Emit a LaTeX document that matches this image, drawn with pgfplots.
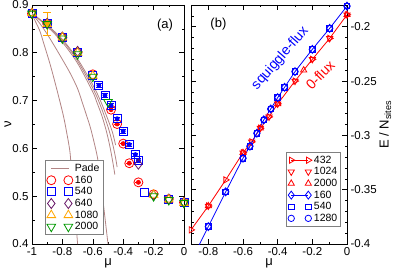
\documentclass[border=0pt]{standalone}
\usepackage{fontspec}
\setmainfont{Liberation Sans}
\usepackage{pgfplots}
\pgfplotsset{compat=1.18}
\definecolor{pade}{rgb}{0.70,0.52,0.52}
\definecolor{dpurple}{rgb}{0.40,0.08,0.40}
\definecolor{orng}{rgb}{1,0.65,0}
\definecolor{dgreen}{rgb}{0,0.6,0}
\pgfplotsset{myax/.style={scale only axis, tick align=inside,
  major tick length=5pt, minor tick length=2.5pt,
  ticklabel style={font=\fontsize{11.5}{13}\selectfont},
  /pgf/number format/assume math mode=true,
  label style={font=\fontsize{13}{15}\selectfont},
  axis line style={line width=0.7pt},
  every tick/.style={black, line width=0.6pt},
  legend cell align=left,
  legend style={draw=gray, line width=0.6pt, font=\fontsize{10.5}{12}\selectfont,
    inner sep=1.5pt, row sep=-1.2pt},
  legend image code/.code={\draw[#1] plot coordinates {(0cm,0cm) (0.6cm,0cm)};},
}}
\begin{document}
\begin{tikzpicture}
\useasboundingbox (0,0) rectangle (395pt,270pt);
% ---------------- panel (a)
\begin{axis}[myax, at={(32pt,26pt)}, anchor=south west,
  width=152pt, height=239pt,
  xmin=-1, xmax=0, ymin=0.4, ymax=0.9,
  xtick={-1,-0.8,-0.6,-0.4,-0.2,0}, minor x tick num=1,
  ytick={0.4,0.5,0.6,0.7,0.8,0.9}, minor y tick num=1,
  xticklabel style={/pgf/number format/.cd, fixed, precision=1},
  yticklabel style={/pgf/number format/.cd, fixed, precision=1},
  xlabel={μ}, ylabel={ν},
  xlabel style={yshift=4pt},
  ylabel style={at={(axis description cs:-0.158,0.5)}, anchor=center},
  legend style={at={(0.0855,0.351)}, anchor=north west},
  every axis plot/.append style={line width=0.8pt},
]
% Pade curves
\addplot[pade, smooth, no marks] coordinates {(-1,0.880) (-0.95,0.847) (-0.926,0.823) (-0.88,0.775) (-0.838,0.725) (-0.794,0.669) (-0.77,0.63) (-0.75,0.592) (-0.739,0.546) (-0.72,0.48) (-0.70,0.40)};
\addlegendentry{Pade}
\addplot[pade, smooth, no marks, forget plot] coordinates {(-1,0.882) (-0.95,0.862) (-0.9,0.839) (-0.85,0.813) (-0.8,0.786) (-0.75,0.758) (-0.7,0.725) (-0.663,0.69) (-0.62,0.648) (-0.597,0.620) (-0.575,0.59) (-0.564,0.570) (-0.54,0.51) (-0.52,0.455) (-0.5,0.40)};
\addplot[pade, smooth, no marks, forget plot] coordinates {(-1,0.882) (-0.9,0.855) (-0.8,0.822) (-0.7,0.778) (-0.6,0.718) (-0.574,0.697) (-0.54,0.668) (-0.509,0.634) (-0.485,0.600) (-0.465,0.565) (-0.455,0.545)};
\addplot[pade, smooth, no marks, forget plot] coordinates {(-1,0.882) (-0.9,0.857) (-0.8,0.826) (-0.7,0.783) (-0.6,0.726) (-0.55,0.690) (-0.5,0.645) (-0.47,0.610) (-0.45,0.580) (-0.44,0.561)};
\addplot[pade, smooth, no marks, forget plot] coordinates {(-1,0.882) (-0.9,0.858) (-0.8,0.828) (-0.7,0.787) (-0.6,0.733) (-0.55,0.700) (-0.5,0.660) (-0.47,0.633) (-0.45,0.607)};
% 160
\addplot[red, only marks, mark=o, mark size=4.5pt] coordinates {(-1,0.882) (-0.9,0.861) (-0.8,0.832) (-0.7,0.801) (-0.6,0.755) (-0.48,0.681) (-0.44,0.651) (-0.4,0.610) (-0.36,0.569) (-0.3,0.529) (-0.2,0.504) (-0.1,0.494) (0,0.487)};
\addlegendentry{160}
\addplot[red, only marks, mark=none, forget plot,
  error bars/.cd, y dir=both, y explicit,
  error bar style={line width=0.7pt},
  error mark options={rotate=90, mark size=3pt, line width=0.7pt}]
  coordinates {(-0.48,0.681) +- (0,0.0) (-0.44,0.651) +- (0,0.0) (-0.4,0.610) +- (0,0.0) (-0.36,0.569) +- (0,0.0) (-0.3,0.529) +- (0,0.0)};
% 540
\addplot[blue, only marks, mark=square, mark size=4.0pt] coordinates {(-1,0.882) (-0.9,0.861) (-0.8,0.832) (-0.7,0.800) (-0.6,0.752) (-0.56,0.732) (-0.52,0.711) (-0.48,0.690) (-0.44,0.662) (-0.4,0.636) (-0.36,0.608) (-0.32,0.587) (-0.3,0.575) (-0.26,0.508) (-0.1,0.494) (0,0.487)};
\addlegendentry{540}
\addplot[blue, only marks, mark=none, forget plot,
  error bars/.cd, y dir=both, y explicit,
  error bar style={line width=0.7pt},
  error mark options={rotate=90, mark size=3pt, line width=0.7pt}]
  coordinates {(-0.56,0.732) +- (0,0.0035) (-0.52,0.711) +- (0,0.0035) (-0.48,0.690) +- (0,0.0035) (-0.44,0.662) +- (0,0.0035) (-0.4,0.636) +- (0,0.0035) (-0.36,0.608) +- (0,0.0035) (-0.32,0.587) +- (0,0.0035) (-0.3,0.575) +- (0,0.0035)};
% 640
\addplot[dpurple, only marks, mark=diamond, mark size=5pt] coordinates {(-1,0.883) (-0.9,0.862) (-0.8,0.833) (-0.7,0.803) (-0.3,0.567) (-0.2,0.502) (-0.1,0.494) (0,0.487)};
\addlegendentry{640}
% 1080
\addplot[orng, only marks, mark=triangle, mark size=5pt] coordinates {(-1,0.883) (-0.9,0.860) (-0.8,0.832) (-0.7,0.800) (-0.6,0.752) (-0.2,0.503) (-0.1,0.493) (0,0.486)};
\addlegendentry{1080}
\addplot[orng, only marks, mark=none, forget plot,
  error bars/.cd, y dir=both, y explicit,
  error bar style={line width=0.9pt},
  error mark options={rotate=90, mark size=4pt, line width=0.9pt}]
  coordinates {(-0.9,0.8605) +- (0,0.0235)};
% 2000
\addplot[dgreen, only marks, mark=triangle, mark size=5pt, every mark/.append style={rotate=180}] coordinates {(-1,0.882) (-0.9,0.860) (-0.8,0.830) (-0.7,0.797) (-0.6,0.750) (-0.5,0.697) (-0.2,0.500) (-0.1,0.492) (0,0.486)};
\addlegendentry{2000}
\node[font=\fontsize{13}{15}\selectfont] at (axis cs:-0.125,0.858) {(a)};
\end{axis}
% ---------------- panel (b)
\begin{axis}[myax, at={(191pt,26pt)}, anchor=south west,
  width=156pt, height=239pt,
  xmin=-0.9, xmax=0, ymin=-0.4, ymax=-0.18,
  xtick={-0.8,-0.6,-0.4,-0.2,0}, minor xtick={-0.9,-0.7,-0.5,-0.3,-0.1},
  ytick={-0.4,-0.35,-0.3,-0.25,-0.2},
  minor ytick={-0.39,-0.38,-0.37,-0.36,-0.34,-0.33,-0.32,-0.31,-0.29,-0.28,-0.27,-0.26,-0.24,-0.23,-0.22,-0.21,-0.19},
  xticklabel style={/pgf/number format/.cd, fixed, precision=1},
  yticklabel style={/pgf/number format/.cd, fixed, precision=2},
  yticklabel pos=right,
  xlabel={μ}, ylabel={E / N\textsubscript{sites}},
  xlabel style={yshift=4pt},
  ylabel style={at={(axis description cs:1.245,0.5)}, anchor=center},
  legend style={at={(0.962,0.385)}, anchor=north east},
  every axis plot/.append style={line width=0.8pt},
]
% red 0-flux
\addplot[red, mark=triangle, mark size=3.6pt, mark options={solid, rotate=-90}] coordinates {(-0.9,-0.387) (-0.8,-0.365) (-0.7,-0.341) (-0.6,-0.316) (-0.55,-0.306) (-0.5,-0.2934) (-0.45,-0.283) (-0.4,-0.271) (-0.3,-0.250) (-0.2,-0.230) (-0.1,-0.2107) (0,-0.189)};
\addlegendentry{432}
\addplot[red, only marks, mark=triangle, mark size=3.6pt, every mark/.append style={rotate=180}] coordinates {(-0.8,-0.365) (-0.6,-0.316) (-0.55,-0.306) (-0.5,-0.2934) (-0.45,-0.283) (-0.4,-0.271) (-0.3,-0.250) (-0.2,-0.230) (-0.1,-0.2107) (0,-0.189)};
\addlegendentry{1024}
\addplot[red, only marks, mark=triangle, mark size=3.6pt] coordinates {(-0.8,-0.365) (-0.6,-0.316) (-0.5,-0.2934) (-0.4,-0.271) (-0.25,-0.240) (0,-0.189)};
\addlegendentry{2000}
% blue squiggle-flux
\addplot[blue, no marks, forget plot] coordinates {(-0.9,-0.416) (-0.8,-0.384)};
\addplot[blue, mark=diamond, mark size=4pt, mark options={solid}] coordinates {(-0.8,-0.384) (-0.7,-0.352) (-0.6,-0.321) (-0.56,-0.310) (-0.52,-0.298) (-0.48,-0.2857) (-0.44,-0.2757) (-0.4,-0.2653) (-0.36,-0.2557) (-0.3,-0.2413) (-0.2,-0.2208) (-0.1,-0.2015) (0,-0.181)};
\addlegendentry{160}
\addplot[blue, only marks, mark=square, mark size=2.8pt] coordinates {(-0.8,-0.384) (-0.7,-0.352) (-0.6,-0.321) (-0.56,-0.310) (-0.52,-0.298) (-0.48,-0.2857) (-0.44,-0.2757) (-0.4,-0.2653) (-0.36,-0.2557) (-0.3,-0.2413) (-0.2,-0.2208) (-0.1,-0.2015) (0,-0.181)};
\addlegendentry{540}
\addplot[blue, only marks, mark=o, mark size=3.2pt] coordinates {(-0.8,-0.384) (-0.7,-0.352) (-0.6,-0.321) (-0.56,-0.310) (-0.52,-0.298) (-0.48,-0.2857) (-0.44,-0.2757) (-0.4,-0.2653) (-0.36,-0.2557) (-0.3,-0.2413) (-0.2,-0.2208) (-0.1,-0.2015) (0,-0.181)};
\addlegendentry{1280}
\node[font=\fontsize{13}{15}\selectfont] at (axis cs:-0.742,-0.198) {(b)};
\node[blue, rotate=49, font=\fontsize{14}{16}\selectfont] at (axis cs:-0.385,-0.229) {squiggle-flux};
\node[red, rotate=46, font=\fontsize{14}{16}\selectfont] at (axis cs:-0.155,-0.2445) {0-flux};
\end{axis}
\end{tikzpicture}
\end{document}
